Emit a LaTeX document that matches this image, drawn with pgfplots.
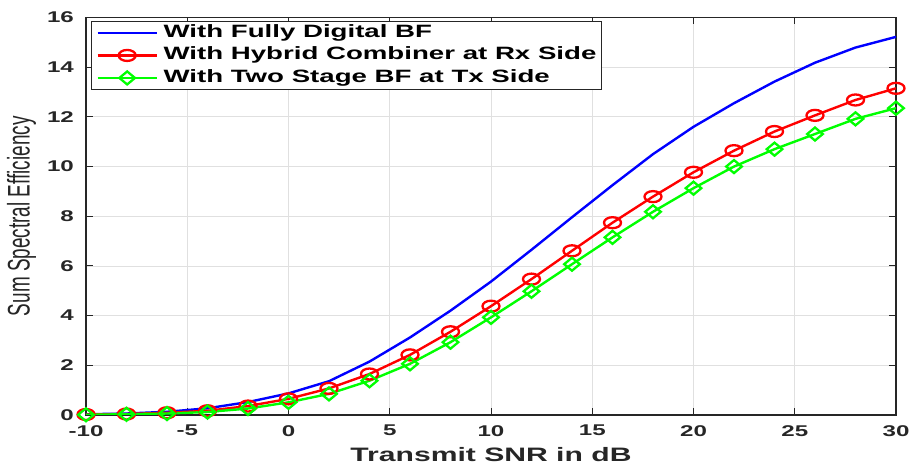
\documentclass[border=0pt]{standalone}
\usepackage{pgfplots}
\pgfplotsset{compat=1.18}
\usepackage{fontspec}
\setmainfont{Liberation Sans}
\newcommand{\sx}[1]{\scalebox{1.55}[1]{#1}}
\definecolor{axgray}{rgb}{0.15,0.15,0.15}
\definecolor{gridgray}{rgb}{0.88,0.88,0.88}
\definecolor{mblue}{rgb}{0,0,1}
\definecolor{mred}{rgb}{1,0,0}
\definecolor{mgreen}{rgb}{0,1,0}
\begin{document}
\begin{tikzpicture}
\begin{axis}[
  name=ax,
  scale only axis,
  width=810bp, height=397.5bp,
  xmin=-10, xmax=30, ymin=0, ymax=16,
  xtick={-10,-5,0,5,10,15,20,25,30},
  xticklabels={\sx{-10},\sx{-5},\sx{0},\sx{5},\sx{10},\sx{15},\sx{20},\sx{25},\sx{30}},
  ytick={0,2,4,6,8,10,12,14,16},
  yticklabels={\sx{0},\sx{2},\sx{4},\sx{6},\sx{8},\sx{10},\sx{12},\sx{14},\sx{16}},
  tick label style={font=\fontsize{15.6}{17}\selectfont\bfseries, text=axgray, inner sep=0pt},
  xticklabel style={yshift=-10bp},
  yticklabel style={xshift=-12bp},
  xtick pos=both, ytick pos=both,
  tick align=inside,
  major tick length=7bp,
  every tick/.style={axgray, line width=1bp},
  axis line style={axgray, line width=1.2bp},
  grid=major,
  major grid style={gridgray, line width=0.8bp},
  xlabel={\sx{Transmit SNR in dB}},
  xlabel style={font=\fontsize{19.5}{22}\selectfont\bfseries, text=axgray, at={(rel axis cs:0.5,-0.1175)}, anchor=base},
  ylabel={\scalebox{1}[1.65]{Sum Spectral Efficiency}},
  ylabel style={font=\fontsize{19}{22}\selectfont, text=axgray, at={(rel axis cs:-0.0795,0.5)}, anchor=center},
  legend cell align=left,
  legend image code/.code={\draw[mark repeat=2,mark phase=2,#1] plot coordinates {(0bp,0bp)(29.5bp,0bp)(59bp,0bp)};},
  legend style={at={(rel axis cs:0.0062,0.9912)}, anchor=north west, draw=axgray, line width=0.9bp, fill=white,
    font=\fontsize{17.9}{20}\selectfont\bfseries, inner xsep=5bp, inner ysep=3bp, row sep=5.5bp,
    nodes={inner sep=0pt, text height=13bp, text depth=4bp},
    /tikz/every odd column/.style={column sep=5.7bp}},
]
\addplot[color=mblue, line width=2.4bp] coordinates {
(-10,0.03)(-8,0.06)(-6,0.13)(-4,0.27)(-2,0.52)(0,0.87)(2,1.36)(4,2.15)(6,3.12)(8,4.2)(10,5.37)
(12,6.65)(14,7.96)(16,9.25)(18,10.5)(20,11.6)(22,12.55)(24,13.42)(26,14.18)(28,14.79)(30,15.22)};
\addlegendentry{\sx{With Fully Digital BF}}
\addplot[color=mred, line width=2.4bp, mark=o, mark size=5.5bp, mark options={xscale=1.55, line width=2.3bp}] coordinates {
(-10,0.02)(-8,0.04)(-6,0.09)(-4,0.17)(-2,0.36)(0,0.65)(2,1.07)(4,1.65)(6,2.42)(8,3.35)(10,4.38)
(12,5.47)(14,6.61)(16,7.74)(18,8.79)(20,9.77)(22,10.64)(24,11.41)(26,12.06)(28,12.68)(30,13.15)};
\addlegendentry{\sx{With Hybrid Combiner at Rx Side}}
\addplot[color=mgreen, line width=2.4bp, mark=diamond, mark size=6.5bp, mark options={xscale=1.6, line width=2.3bp}] coordinates {
(-10,0.01)(-8,0.03)(-6,0.06)(-4,0.12)(-2,0.26)(0,0.51)(2,0.85)(4,1.38)(6,2.06)(8,2.93)(10,3.93)
(12,4.98)(14,6.07)(16,7.15)(18,8.18)(20,9.13)(22,10.0)(24,10.7)(26,11.31)(28,11.92)(30,12.35)};
\addlegendentry{\sx{With Two Stage BF at Tx Side}}
\end{axis}
\pgfresetboundingbox
\useasboundingbox ([xshift=-86bp,yshift=-51bp]ax.south west) rectangle ([xshift=13bp,yshift=17.5bp]ax.north east);
\end{tikzpicture}
\end{document}
